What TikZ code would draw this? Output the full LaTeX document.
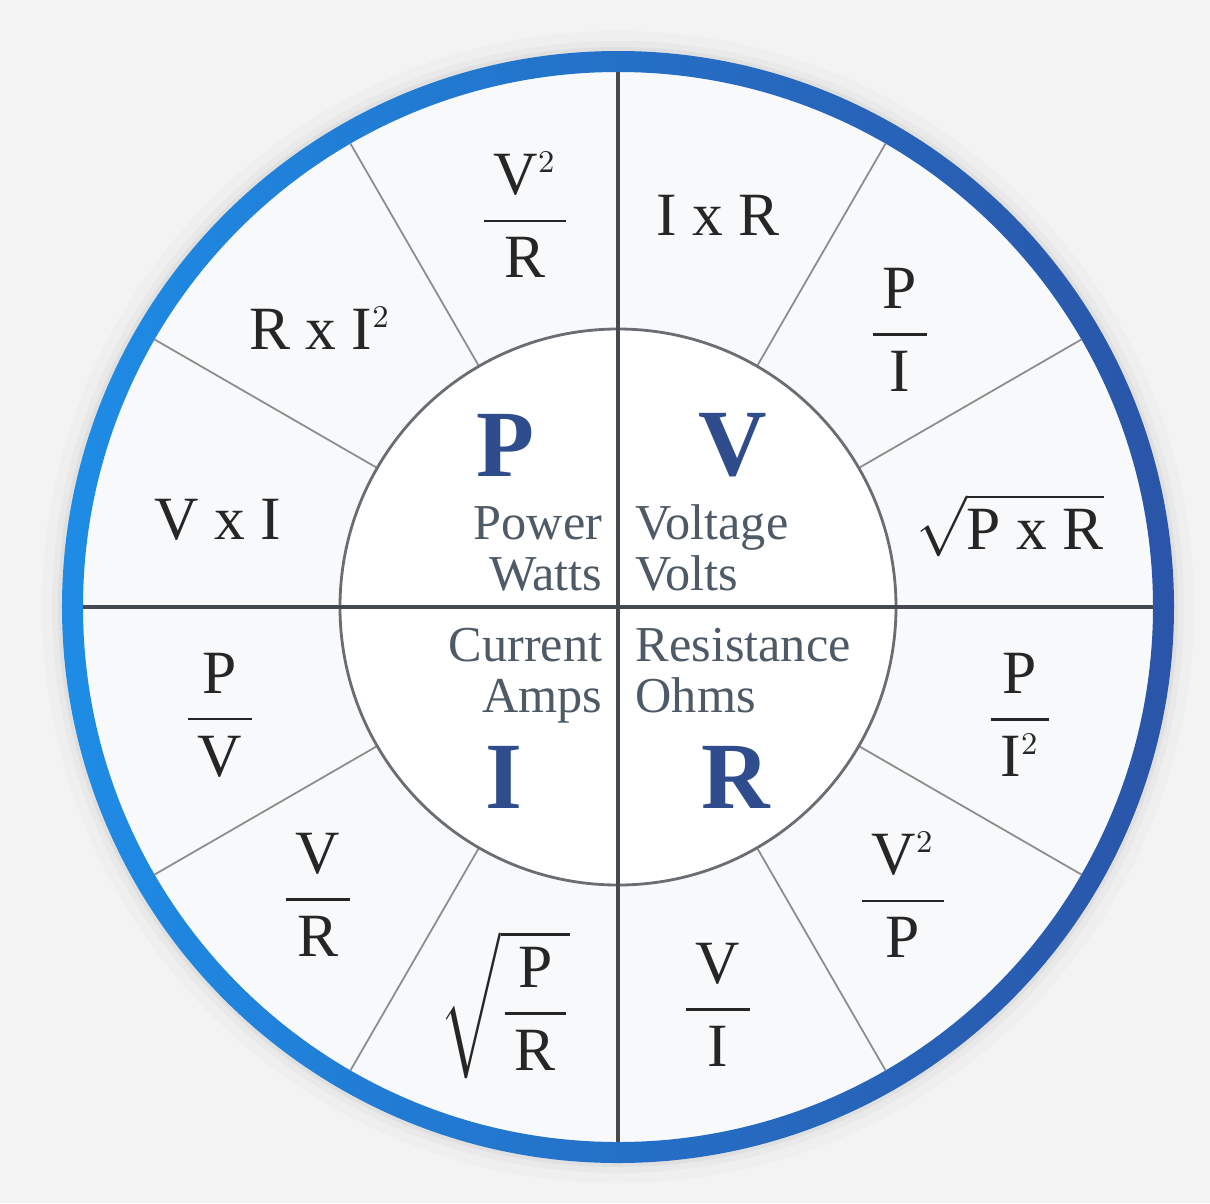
\documentclass[tikz,border=0pt]{standalone}
\usepackage{amsmath}
\usepackage{fontspec}
\setmainfont{Liberation Serif}
\definecolor{bgray}{HTML}{F3F3F3}
\definecolor{annulus}{HTML}{F8F9FA}
\definecolor{ringL}{HTML}{1E8CE6}
\definecolor{ringR}{HTML}{2A55A8}
\definecolor{qblue}{HTML}{2F4D8C}
\definecolor{qgray}{HTML}{4E5A66}
\definecolor{spoke}{HTML}{8C8C8C}
\definecolor{axis}{HTML}{454A50}
\newcommand{\frc}[2]{$\displaystyle\frac{\,\text{#1}\,}{\,\text{#2}\,}$}
\newcommand{\sqd}{$^{\scriptscriptstyle 2}$}
\tikzset{
  formula/.style={font=\fontsize{17.5}{20}\selectfont, text=black!85, inner sep=1pt},
  qty/.style={font=\fontsize{27}{30}\selectfont\bfseries, text=qblue},
  unitlbl/.style={font=\fontsize{14.3}{14.3}\selectfont, text=qgray, inner sep=0pt},
}
\begin{document}
\begin{tikzpicture}
\useasboundingbox[fill=bgray] (-6.18,-5.96) rectangle (5.92,6.07);
% soft shadow round the ring
\fill[black,opacity=0.015] (0,0) circle (5.76);
\fill[black,opacity=0.025] (0,0) circle (5.66);
\fill[black,opacity=0.035] (0,0) circle (5.60);
\fill[annulus] (0,0) circle (5.45);
\shade[left color=ringL, right color=ringR, even odd rule] (0,0) circle (5.56) (0,0) circle (5.35);
% spokes
\draw[spoke, line width=0.5pt] (30:2.78) -- (30:5.35);
\draw[spoke, line width=0.5pt] (60:2.78) -- (60:5.35);
\draw[spoke, line width=0.5pt] (120:2.78) -- (120:5.35);
\draw[spoke, line width=0.5pt] (150:2.78) -- (150:5.35);
\draw[spoke, line width=0.5pt] (210:2.78) -- (210:5.35);
\draw[spoke, line width=0.5pt] (240:2.78) -- (240:5.35);
\draw[spoke, line width=0.5pt] (300:2.78) -- (300:5.35);
\draw[spoke, line width=0.5pt] (330:2.78) -- (330:5.35);
\filldraw[fill=white, draw=axis!80, line width=0.8pt] (0,0) circle (2.78);
\draw[axis, line width=0.9pt] (0,5.35) -- (0,-5.35);
\draw[axis, line width=0.9pt] (-5.35,0) -- (5.35,0);
% quantities
\node[qty] (qP) at (-1.13,1.62) {P};
\node[qty] (qV) at (1.15,1.62) {V};
\node[qty] (qI) at (-1.14,-1.70) {I};
\node[qty] (qR) at (1.18,-1.70) {R};
\node[unitlbl, align=right, anchor=base east] (uP) at (-0.15,0.17) {Power\\Watts};
\node[unitlbl, align=left, anchor=base west] (uV) at (0.17,0.17) {Voltage\\Volts};
\node[unitlbl, align=right, anchor=base east] (uI) at (-0.15,-1.05) {Current\\Amps};
\node[unitlbl, align=left, anchor=base west] (uR) at (0.17,-1.05) {Resistance\\Ohms};
% formulas
\node[formula] (f1) at (1.00,3.92) {I x R};
\node[formula] (f2) at (2.82,2.77) {\frc{P}{I}};
\node[formula] (f3) at (3.92,0.82) {$\sqrt{\text{P x R}}$};
\node[formula] (f4) at (4.02,-1.08) {\frc{P}{I\sqd}};
\node[formula] (f5) at (2.85,-2.88) {\frc{V\sqd}{P}};
\node[formula] (f6) at (1.00,-3.98) {\frc{V}{I}};
\node[formula] (f7) at (-1.13,-3.98) {$\sqrt{\displaystyle\frac{\,\text{P}\,}{\,\text{R}\,}}$};
\node[formula] (f8) at (-3.00,-2.88) {\frc{V}{R}};
\node[formula] (f9) at (-3.98,-1.08) {\frc{P}{V}};
\node[formula] (f10) at (-4.00,0.87) {V x I};
\node[formula] (f11) at (-2.98,2.79) {R x I\sqd};
\node[formula] (f12) at (-0.93,3.92) {\frc{V\sqd}{R}};
\end{tikzpicture}
\end{document}
